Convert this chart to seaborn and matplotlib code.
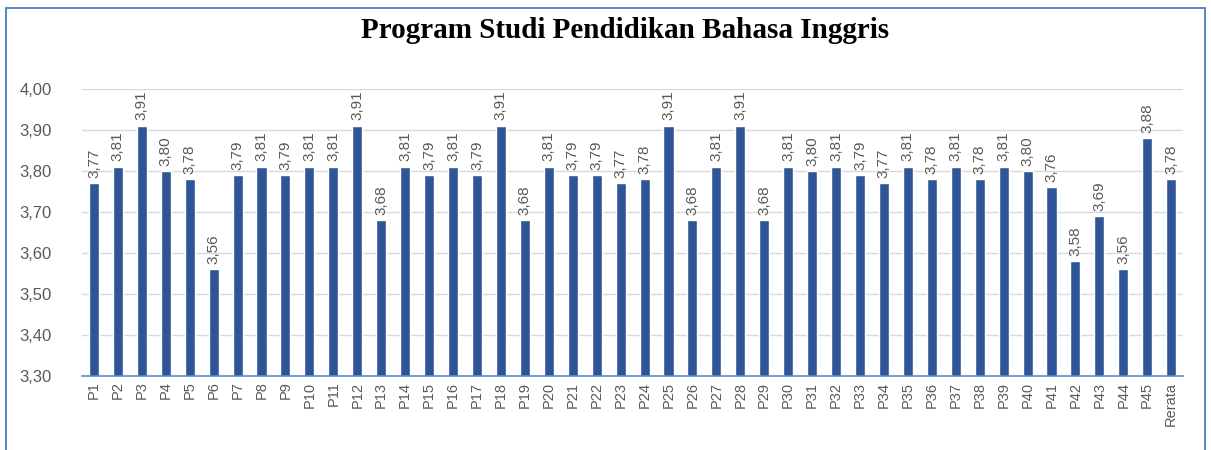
import matplotlib
matplotlib.use("Agg")
import matplotlib.pyplot as plt
import seaborn as sns
import pandas as pd
from matplotlib.patches import Rectangle

categories = [f"P{i}" for i in range(1, 46)] + ["Rerata"]
values = [3.77, 3.81, 3.91, 3.80, 3.78, 3.56, 3.79, 3.81, 3.79, 3.81,
          3.81, 3.91, 3.68, 3.81, 3.79, 3.81, 3.79, 3.91, 3.68, 3.81,
          3.79, 3.79, 3.77, 3.78, 3.91, 3.68, 3.81, 3.91, 3.68, 3.81,
          3.80, 3.81, 3.79, 3.77, 3.81, 3.78, 3.81, 3.78, 3.81, 3.80,
          3.76, 3.58, 3.69, 3.56, 3.88, 3.78]
yticks = [3.30, 3.40, 3.50, 3.60, 3.70, 3.80, 3.90, 4.00]
title = "Program Studi Pendidikan Bahasa Inggris"

df = pd.DataFrame({"kategori": categories, "nilai": values})

sns.set_theme(style="white")
plt.rcParams["font.family"] = ["Liberation Sans", "DejaVu Sans"]

fig = plt.figure(figsize=(12.11, 4.5), dpi=100)
ax = fig.add_axes([0.0677, 0.1644, 0.9093, 0.6376])

bar_color = "#2F5597"
sns.barplot(data=df, x="kategori", y="nilai", color=bar_color, width=0.42,
            saturation=1, ax=ax, zorder=3)

ax.set_ylim(3.30, 4.00)
ax.set_xlim(-0.5, len(categories) - 0.5)
ax.set_yticks(yticks)
ax.set_yticklabels([f"{v:.2f}".replace(".", ",") for v in yticks],
                   fontsize=12, color="#595959")
ax.tick_params(axis="y", length=0, pad=22)
ax.tick_params(axis="x", length=0, pad=4, labelrotation=90, labelsize=10.5,
               labelcolor="#595959")
ax.set_xlabel("")
ax.set_ylabel("")
ax.grid(axis="y", color="#D9D9D9", linewidth=1, zorder=0)
for s in ["top", "right", "left"]:
    ax.spines[s].set_visible(False)
ax.spines["bottom"].set_color("#5B8BD0")
ax.spines["bottom"].set_linewidth(1.2)
ax.spines["bottom"].set_zorder(4)

for i, v in enumerate(values):
    ax.annotate(f"{v:.2f}".replace(".", ","), (i, v), xytext=(0, 4),
                textcoords="offset points", rotation=90, ha="center",
                va="bottom", fontsize=11, color="#595959",
                annotation_clip=False)

fig.text(0.516, 0.933, title, ha="center", va="center",
         fontsize=21, fontweight="bold", family=["Liberation Serif", "DejaVu Serif"],
         color="black")

fig.patches.append(Rectangle((6 / 1211, -0.01), 1199 / 1211, 1 - 8 / 450 + 0.01,
                             transform=fig.transFigure, fill=False,
                             edgecolor="#4A7EBB", linewidth=1.3))

fig.savefig("out.png", dpi=100)
